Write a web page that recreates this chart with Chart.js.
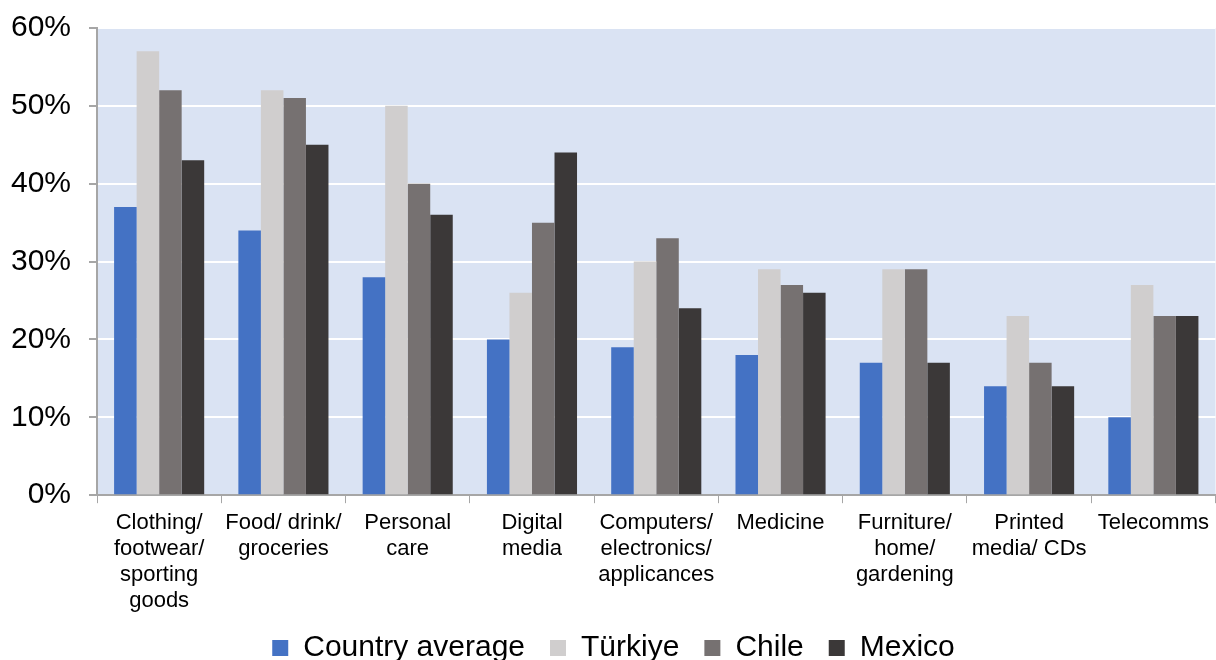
<!DOCTYPE html>
<html lang="en">
<head>
    <meta charset="UTF-8">
    <title>Online shopping by category</title>
    <script src="https://cdn.jsdelivr.net/npm/chart.js"></script>
    <style>
        html, body { margin: 0; padding: 0; background: #fff; }
        #wrap { width: 1216px; height: 660px; }
    </style>
</head>
<body>
    <div id="wrap"><canvas id="shopChart"></canvas></div>

    <script>
        const categories = [
            ['Clothing/', 'footwear/', 'sporting', 'goods'],
            ['Food/ drink/', 'groceries'],
            ['Personal', 'care'],
            ['Digital', 'media'],
            ['Computers/', 'electronics/', 'applicances'],
            ['Medicine'],
            ['Furniture/', 'home/', 'gardening'],
            ['Printed', 'media/ CDs'],
            ['Telecomms']
        ];
        const countryAverage = [37, 34, 28, 20, 19, 18, 17, 14, 10];
        const turkiye = [57, 52, 50, 26, 30, 29, 29, 23, 27];
        const chile = [52, 51, 40, 35, 33, 27, 29, 17, 23];
        const mexico = [43, 45, 36, 44, 24, 26, 17, 14, 23];

        const FONT = '"Liberation Sans", Arial, sans-serif';

        // light blue fill behind the plot area
        const plotBackground = {
            id: 'plotBackground',
            beforeDraw(chart) {
                const { ctx, chartArea: a } = chart;
                ctx.save();
                ctx.fillStyle = '#dae3f3';
                ctx.fillRect(a.left, a.top, a.right - a.left, a.bottom - a.top);
                ctx.restore();
            }
        };

        // x labels are clipped to the scale box, so let it reach down over the legend margin
        const labelRoom = {
            id: 'labelRoom',
            afterLayout(chart) {
                chart.scales.x.bottom += 20;
            }
        };

        const ctx = document.getElementById('shopChart').getContext('2d');
        new Chart(ctx, {
            type: 'bar',
            data: {
                labels: categories,
                datasets: [
                    { label: 'Country average', data: countryAverage, backgroundColor: '#4472c4' },
                    { label: 'Türkiye', data: turkiye, backgroundColor: '#d0cece' },
                    { label: 'Chile', data: chile, backgroundColor: '#767171' },
                    { label: 'Mexico', data: mexico, backgroundColor: '#3b3838' }
                ]
            },
            options: {
                responsive: true,
                maintainAspectRatio: false,
                animation: false,
                layout: { padding: { left: 11, right: 0, top: 28, bottom: -13 } },
                datasets: {
                    bar: { barPercentage: 1, categoryPercentage: 0.725 }
                },
                plugins: {
                    legend: {
                        position: 'bottom',
                        labels: {
                            color: '#000',
                            font: { family: FONT, size: 30 },
                            boxWidth: 16,
                            boxHeight: 16,
                            padding: 25
                        }
                    },
                    tooltip: { enabled: false }
                },
                scales: {
                    x: {
                        afterFit: s => { s.height -= 13; },
                        grid: {
                            drawOnChartArea: false,
                            tickLength: 8,
                            tickColor: '#a6a6a6',
                            color: '#a6a6a6'
                        },
                        border: { color: '#a6a6a6', width: 2 },
                        ticks: {
                            color: '#000',
                            font: { family: FONT, size: 22, lineHeight: 1.18 },
                            maxRotation: 0,
                            autoSkip: false,
                            padding: 7
                        }
                    },
                    y: {
                        min: 0,
                        max: 60,
                        afterFit: s => {
                            s.width = 86;
                            s.paddingTop = 0;
                            s.paddingBottom = 0;
                        },
                        grid: {
                            color: '#ffffff',
                            lineWidth: 2,
                            tickLength: 8,
                            tickColor: '#a6a6a6'
                        },
                        border: { color: '#a6a6a6', width: 2 },
                        ticks: {
                            stepSize: 10,
                            color: '#000',
                            font: { family: FONT, size: 30 },
                            padding: 18,
                            callback: v => v + '%'
                        }
                    }
                }
            },
            plugins: [plotBackground, labelRoom]
        });
    </script>
</body>
</html>
